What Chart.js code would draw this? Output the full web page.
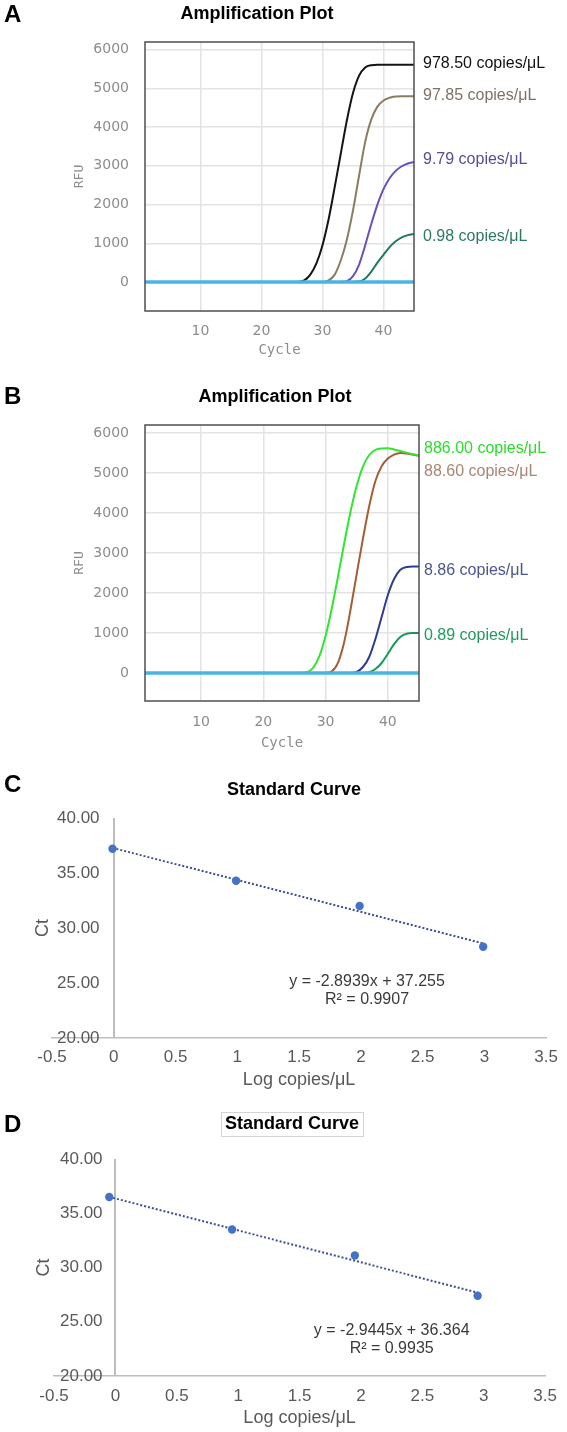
<!DOCTYPE html>
<html>
<head>
<meta charset="utf-8">
<title>qPCR amplification plots and standard curves</title>
<script src="https://cdn.jsdelivr.net/npm/chart.js"></script>
<style>
    body { margin: 0; background: #fff; }
    #page { position: relative; width: 567px; height: 1432px; background: #fff; }
    canvas { position: absolute; left: 0; }
</style>
</head>
<body>
<div id="page">
    <canvas id="chartA" width="567" height="365" style="top:0"></canvas>
    <canvas id="chartB" width="567" height="395" style="top:365px"></canvas>
    <canvas id="chartC" width="567" height="335" style="top:760px"></canvas>
    <canvas id="chartD" width="567" height="337" style="top:1095px"></canvas>
</div>
<script>
// Cycles at which the RFU values were read
const cycles = [1, 10, 20, 25, 26, 27, 28, 29, 30, 31, 32, 33, 34, 35, 36, 37, 38, 39, 40, 41, 42, 43, 44, 45];

// Panel A - RFU per cycle
const labelsA = ["978.50 copies/μL", "97.85 copies/μL", "9.79 copies/μL", "0.98 copies/μL"];
const rfuA978 = [0, 0, 0, 0, 0, 40, 190, 480, 950, 1620, 2450, 3320, 4180, 4880, 5330, 5540, 5600, 5610, 5610, 5610, 5610, 5610, 5610, 5610];
const rfuA97 = [0, 0, 0, 0, 0, 0, 0, 0, 0, 40, 190, 560, 1100, 1850, 2750, 3620, 4200, 4530, 4690, 4760, 4790, 4800, 4800, 4800];
const rfuA9 = [0, 0, 0, 0, 0, 0, 0, 0, 0, 0, 0, 0, 20, 150, 450, 950, 1500, 2000, 2400, 2680, 2870, 2990, 3060, 3100];
const rfuA09 = [0, 0, 0, 0, 0, 0, 0, 0, 0, 0, 0, 0, 0, 0, 10, 90, 270, 500, 700, 900, 1050, 1150, 1210, 1240];

// Panel B - RFU per cycle
const labelsB = ["886.00 copies/μL", "88.60 copies/μL", "8.86 copies/μL", "0.89 copies/μL"];
const rfuB886 = [0, 0, 0, 0, 0, 20, 130, 420, 930, 1620, 2420, 3250, 4030, 4680, 5160, 5450, 5580, 5615, 5620, 5590, 5550, 5510, 5470, 5440];
const rfuB88 = [0, 0, 0, 0, 0, 0, 0, 0, 0, 40, 260, 780, 1580, 2480, 3360, 4170, 4800, 5170, 5360, 5460, 5500, 5490, 5460, 5430];
const rfuB8 = [0, 0, 0, 0, 0, 0, 0, 0, 0, 0, 0, 0, 0, 30, 150, 400, 850, 1400, 1950, 2350, 2580, 2650, 2660, 2660];
const rfuB08 = [0, 0, 0, 0, 0, 0, 0, 0, 0, 0, 0, 0, 0, 0, 0, 20, 100, 250, 480, 720, 900, 980, 1000, 1000];

// Baseline (flat at 0 RFU over the run)
const baselineCycles = [0.9, 45];
const baselineRFU = [0, 0];

// Axis ticks
const rfuTicks = [0, 1000, 2000, 3000, 4000, 5000, 6000];
const cycleTicks = [10, 20, 30, 40];

// Panel C - standard curve
const logC = [-0.01, 0.99, 1.99, 2.99];
const ctC = [37.2, 34.3, 32.0, 28.3];
const fitC = { slope: -2.8939, intercept: 37.255, r2: "0.9907" };

// Panel D - standard curve
const logD = [-0.05, 0.95, 1.95, 2.95];
const ctD = [36.5, 33.5, 31.1, 27.4];
const fitD = { slope: -2.9445, intercept: 36.364, r2: "0.9935" };

const SANS = "'Liberation Sans', Arial, sans-serif";

// Panel letter + title
const panelText = {
    id: "panelText",
    afterDraw(chart, args, opts) {
        const c = chart.ctx;
        c.save();
        c.fillStyle = "#000";
        c.textBaseline = "middle";
        c.textAlign = "left";
        c.font = "bold 24px " + SANS;
        c.fillText(opts.letter, 4, opts.letterY);
        c.font = "bold 18px " + SANS;
        c.textAlign = "center";
        c.fillText(opts.title, opts.titleX, opts.titleY);
        if (opts.titleBox) {
            const w = c.measureText(opts.title).width;
            c.strokeStyle = "#d4d4d4";
            c.lineWidth = 1;
            c.strokeRect(Math.round(opts.titleX - w / 2 - 4) + 0.5, Math.round(opts.titleY - 12) + 0.5, Math.round(w + 8), 24);
        }
        c.restore();
    }
};

// Frame around the plot area
const plotBox = {
    id: "plotBox",
    afterDatasetsDraw(chart, args, opts) {
        const a = chart.chartArea;
        const c = chart.ctx;
        c.save();
        c.strokeStyle = opts.color;
        c.lineWidth = 1.5;
        c.strokeRect(a.left, a.top, a.right - a.left, a.bottom - a.top);
        c.restore();
    }
};

// Concentration labels at the end of each curve
const endLabels = {
    id: "endLabels",
    afterDatasetsDraw(chart, args, opts) {
        const c = chart.ctx;
        const y = chart.scales.y;
        c.save();
        c.font = "16px " + SANS;
        c.textAlign = "left";
        c.textBaseline = "middle";
        chart.data.datasets.forEach((ds) => {
            if (!ds.endLabel) return;
            const last = ds.data[ds.data.length - 1];
            c.fillStyle = ds.labelColor;
            c.fillText(ds.endLabel, chart.chartArea.right + opts.gap, y.getPixelForValue(last.y) + (ds.labelNudge || 0));
        });
        c.restore();
    }
};

// Regression equation text
const eqnText = {
    id: "eqnText",
    afterDatasetsDraw(chart, args, opts) {
        const c = chart.ctx;
        const xs = chart.scales.x, ys = chart.scales.y;
        c.save();
        c.font = "16px " + SANS;
        c.fillStyle = "#3a3a3a";
        c.textAlign = "center";
        c.textBaseline = "middle";
        opts.lines.forEach((l) => c.fillText(l.text, xs.getPixelForValue(l.x), ys.getPixelForValue(l.y)));
        c.restore();
    }
};

function ampChart(id, series, L) {
    let ctx = document.getElementById(id).getContext("2d");
    let datasets = [{
        data: baselineCycles.map((c, i) => ({ x: c, y: baselineRFU[i] })),
        borderColor: "#48b4e2",
        borderWidth: 3.5,
        pointRadius: 0
    }];
    series.forEach((s) => {
        datasets.push({
            data: cycles.map((c, i) => ({ x: c, y: s.values[i] })),
            borderColor: s.color,
            borderWidth: 2,
            pointRadius: 0,
            cubicInterpolationMode: "monotone",
            endLabel: s.label,
            labelColor: s.labelColor,
            labelNudge: s.nudge
        });
    });
    return new Chart(ctx, {
        type: "line",
        data: { datasets: datasets },
        plugins: [plotBox, endLabels, panelText],
        options: {
            responsive: false,
            animation: false,
            layout: { autoPadding: false, padding: { left: 69, right: L.right, top: L.top, bottom: 0 } },
            plugins: {
                legend: { display: false },
                tooltip: { enabled: false },
                plotBox: { color: "#4f4f4f" },
                endLabels: { gap: L.gap },
                panelText: L.text
            },
            scales: {
                x: {
                    type: "linear",
                    min: L.xMin,
                    max: 45,
                    afterBuildTicks: (s) => { s.ticks = cycleTicks.map((v) => ({ value: v })); },
                    afterFit: (s) => { s.height = L.xHeight; },
                    grid: { color: "#e3e3e3", lineWidth: 1.5, drawTicks: false },
                    border: { display: false },
                    ticks: { color: "#8c8c8c", font: { family: "'DejaVu Sans', sans-serif", size: 14 }, padding: L.xPad, maxRotation: 0 },
                    title: { display: true, text: "Cycle", color: "#8c8c8c", font: { family: "'DejaVu Sans Mono', monospace", size: 14 }, padding: { top: 0, bottom: L.cyclePad } }
                },
                y: {
                    type: "linear",
                    min: L.yMin,
                    max: 6200,
                    afterBuildTicks: (s) => { s.ticks = rfuTicks.map((v) => ({ value: v })); },
                    afterFit: (s) => { s.width = 76; },
                    grid: { color: "#e3e3e3", lineWidth: 1.5, drawTicks: false },
                    border: { display: false },
                    ticks: { callback: (v) => String(v), color: "#8c8c8c", font: { family: "'DejaVu Sans', sans-serif", size: 14 }, padding: 16 },
                    title: { display: true, text: "RFU", color: "#8c8c8c", font: { family: "'DejaVu Sans Mono', monospace", size: 13 }, padding: { top: 3, bottom: 0 } }
                }
            }
        }
    });
}

function stdChart(id, logs, cts, fit, L) {
    let ctx = document.getElementById(id).getContext("2d");
    let x0 = logs[0], x1 = logs[logs.length - 1];
    return new Chart(ctx, {
        type: "scatter",
        data: {
            datasets: [
                {
                    data: logs.map((x, i) => ({ x: x, y: cts[i] })),
                    backgroundColor: "#4472c4",
                    borderWidth: 0,
                    pointRadius: 4.2
                },
                {
                    type: "line",
                    data: [{ x: x0, y: fit.slope * x0 + fit.intercept }, { x: x1, y: fit.slope * x1 + fit.intercept }],
                    borderColor: "#3f4f92",
                    borderWidth: 2,
                    borderDash: [2, 2],
                    pointRadius: 0
                }
            ]
        },
        plugins: [eqnText, panelText],
        options: {
            responsive: false,
            animation: false,
            layout: { autoPadding: false, padding: { left: L.left, right: L.right, top: L.top, bottom: 0 } },
            plugins: {
                legend: { display: false },
                tooltip: { enabled: false },
                panelText: L.text,
                eqnText: {
                    lines: [
                        { text: "y = " + fit.slope + "x + " + fit.intercept, x: L.eqX, y: L.eqY },
                        { text: "R² = " + fit.r2, x: L.eqX, y: L.eqY - 1.6 }
                    ]
                }
            },
            scales: {
                x: {
                    type: "linear",
                    min: -0.5,
                    max: 3.5,
                    afterFit: (s) => { s.height = L.xHeight; },
                    grid: {
                        drawTicks: false,
                        lineWidth: 2,
                        color: (c) => (c.tick && c.tick.value === 0 ? "#bdbdbd" : "rgba(0,0,0,0)")
                    },
                    border: { color: "#bdbdbd", width: 1.5 },
                    ticks: { stepSize: 0.5, callback: (v) => String(v), color: "#595959", font: { family: SANS, size: 17 }, padding: L.xPad, maxRotation: 0, autoSkip: false },
                    title: { display: true, text: "Log copies/μL", color: "#595959", font: { family: SANS, size: 18 }, padding: { top: 0, bottom: L.titlePad } }
                },
                y: {
                    type: "linear",
                    min: 20,
                    max: 40,
                    afterFit: (s) => { s.width = L.yWidth; },
                    grid: { display: false },
                    border: { display: false },
                    ticks: { stepSize: 5, mirror: true, callback: (v) => v.toFixed(2), color: "#595959", font: { family: SANS, size: 17 }, padding: L.yPad },
                    title: { display: true, text: "Ct", color: "#595959", font: { family: SANS, size: 18 }, padding: { top: 0, bottom: 0 } }
                }
            }
        }
    });
}

document.addEventListener("DOMContentLoaded", function () {
    // Amplification Plot A
    ampChart("chartA", [
        { values: rfuA978, label: labelsA[0], color: "#141414", labelColor: "#111111", nudge: -1 },
        { values: rfuA97, label: labelsA[1], color: "#8a7c63", labelColor: "#7d7263", nudge: -1 },
        { values: rfuA9, label: labelsA[2], color: "#6a4fbd", labelColor: "#5a4a98", nudge: -2 },
        { values: rfuA09, label: labelsA[3], color: "#1f7a5c", labelColor: "#2c7a60", nudge: 3 }
    ], {
        top: 42, right: 153, gap: 9, xMin: 0.9, xHeight: 54, xPad: 12, cyclePad: 6, yMin: -750,
        text: { letter: "A", letterY: 15, title: "Amplification Plot", titleX: 257, titleY: 14 }
    });

    // Amplification Plot B
    ampChart("chartB", [
        { values: rfuB886, label: labelsB[0], color: "#30e630", labelColor: "#2add2a", nudge: -7 },
        { values: rfuB88, label: labelsB[1], color: "#a45e36", labelColor: "#a88672", nudge: 16 },
        { values: rfuB8, label: labelsB[2], color: "#2e3c8e", labelColor: "#4b558f", nudge: 4 },
        { values: rfuB08, label: labelsB[3], color: "#17995a", labelColor: "#20995e", nudge: 3 }
    ], {
        top: 60, right: 148, gap: 5, xMin: 1, xHeight: 59, xPad: 13, cyclePad: 8, yMin: -700,
        text: { letter: "B", letterY: 32, title: "Amplification Plot", titleX: 275, titleY: 32 }
    });

    // Standard Curve C
    stdChart("chartC", logC, ctC, fitC, {
        left: 32, yWidth: 20, right: 17, top: 58, xHeight: 57, xPad: 9, titlePad: 4, yPad: 5,
        eqX: 2.05, eqY: 25.1,
        text: { letter: "C", letterY: 25, title: "Standard Curve", titleX: 294, titleY: 30 }
    });

    // Standard Curve D
    stdChart("chartD", logD, ctD, fitD, {
        left: 33, yWidth: 21, right: 15, top: 64, xHeight: 56, xPad: 10, titlePad: 3, yPad: 6,
        eqX: 2.25, eqY: 24.15,
        text: { letter: "D", letterY: 30, title: "Standard Curve", titleX: 292, titleY: 29, titleBox: true }
    });
});
</script>
</body>
</html>
